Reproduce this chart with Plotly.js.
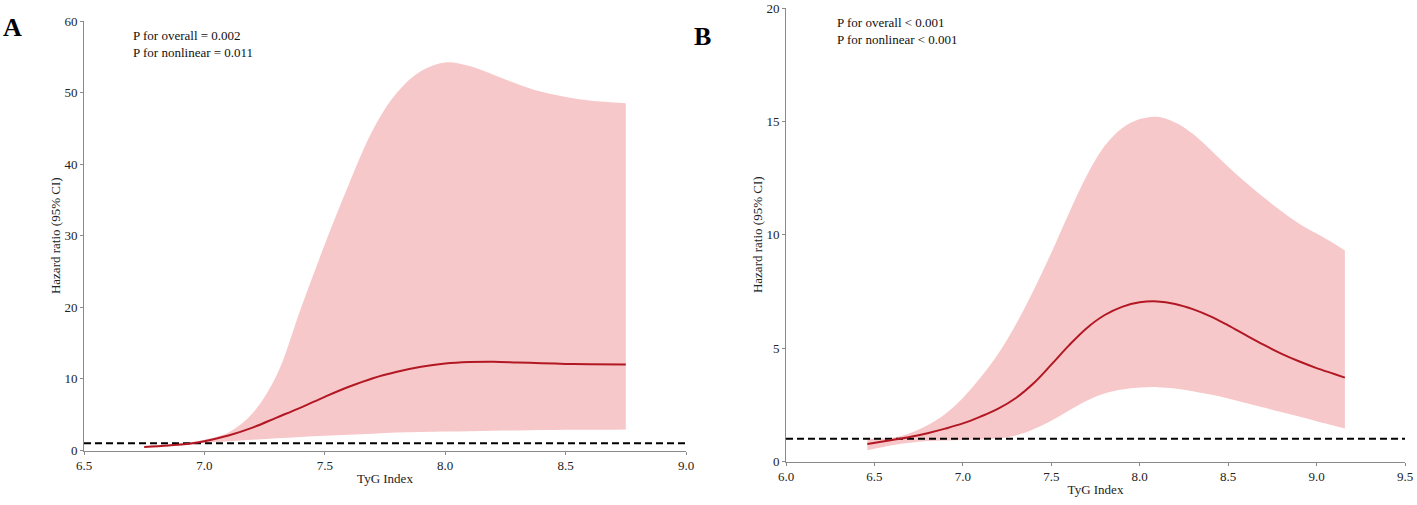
<!DOCTYPE html>
<html>
<head>
<meta charset="utf-8">
<script src="https://cdn.plot.ly/plotly-3.0.1.min.js"></script>
<style>html,body{margin:0;padding:0;background:#fff;}#chart{width:1417px;height:505px;}</style>
</head>
<body>
<div id="chart"></div>
<script>
// ---- Panel A data ----
const tygA = [6.75, 6.85, 6.95, 7.0, 7.1, 7.2, 7.3, 7.4, 7.5, 7.6, 7.7, 7.8, 7.9, 8.0, 8.1, 8.2, 8.3, 8.4, 8.5, 8.6, 8.75];
const hrA  = [0.5, 0.7, 1.0, 1.3, 2.1, 3.2, 4.6, 6.0, 7.5, 8.9, 10.1, 11.0, 11.7, 12.15, 12.35, 12.4, 12.3, 12.2, 12.1, 12.05, 12.0];
const upA  = [0.6, 0.8, 1.2, 1.5, 2.5, 5.2, 10.5, 19.8, 28.8, 37.2, 44.8, 50.0, 53.0, 54.2, 53.7, 52.5, 51.2, 50.1, 49.4, 48.9, 48.5];
const loA  = [0.4, 0.6, 0.85, 1.05, 1.3, 1.5, 1.7, 1.9, 2.05, 2.2, 2.35, 2.5, 2.6, 2.65, 2.7, 2.75, 2.8, 2.85, 2.9, 2.9, 2.95];
const xRangeA = [6.5, 9.0];
const yRangeA = [0, 60];
const xTicksA = [6.5, 7.0, 7.5, 8.0, 8.5, 9.0];
const yTicksA = [0, 10, 20, 30, 40, 50, 60];
const pTextA = ["P for overall = 0.002", "P for nonlinear = 0.011"];

// ---- Panel B data ----
const tygB = [6.46, 6.6, 6.7, 6.8, 6.9, 7.0, 7.1, 7.2, 7.3, 7.4, 7.5, 7.6, 7.7, 7.8, 7.9, 8.0, 8.1, 8.2, 8.3, 8.4, 8.5, 8.6, 8.7, 8.8, 8.9, 9.0, 9.1, 9.16];
const hrB  = [0.77, 0.95, 1.08, 1.25, 1.45, 1.68, 1.98, 2.33, 2.8, 3.45, 4.27, 5.12, 5.88, 6.45, 6.82, 7.02, 7.06, 6.95, 6.72, 6.4, 6.0, 5.57, 5.15, 4.76, 4.42, 4.12, 3.86, 3.7];
const upB  = [1.0, 1.05, 1.25, 1.6, 2.1, 2.8, 3.7, 4.75, 6.05, 7.55, 9.2, 10.95, 12.6, 13.9, 14.7, 15.1, 15.2, 14.95, 14.45, 13.75, 13.0, 12.3, 11.65, 11.05, 10.5, 10.05, 9.6, 9.3];
const loB  = [0.5, 0.72, 0.83, 0.9, 0.93, 0.95, 0.97, 1.02, 1.15, 1.42, 1.8, 2.25, 2.68, 3.0, 3.18, 3.26, 3.28, 3.22, 3.1, 2.95, 2.78, 2.58, 2.38, 2.18, 1.98, 1.78, 1.58, 1.45];
const xRangeB = [6.0, 9.5];
const yRangeB = [0, 20];
const xTicksB = [6.0, 6.5, 7.0, 7.5, 8.0, 8.5, 9.0, 9.5];
const yTicksB = [0, 5, 10, 15, 20];
const pTextB = ["P for overall < 0.001", "P for nonlinear < 0.001"];

const refHR = 1;

const FONT = "Liberation Serif, Times New Roman, serif";
const bandColor = "rgb(247,200,201)";
const lineColor = "rgb(178,24,36)";

function panel(x, hr, up, lo, xr, xa, ya) {
  return [
    {x: x, y: lo, xaxis: xa, yaxis: ya, mode: "lines", line: {width: 0, shape: "spline", smoothing: 1.0}, hoverinfo: "skip", showlegend: false},
    {x: x, y: up, xaxis: xa, yaxis: ya, mode: "lines", line: {width: 0, shape: "spline", smoothing: 1.0}, fill: "tonexty", fillcolor: bandColor, hoverinfo: "skip", showlegend: false},
    {x: xr, y: [refHR, refHR], xaxis: xa, yaxis: ya, mode: "lines", line: {color: "#000", width: 2, dash: "7px,4px"}, showlegend: false},
    {x: x, y: hr, xaxis: xa, yaxis: ya, mode: "lines", line: {color: lineColor, width: 2, shape: "spline", smoothing: 1.0}, showlegend: false}
  ];
}

const data = [].concat(
  panel(tygA, hrA, upA, loA, xRangeA, "x", "y"),
  panel(tygB, hrB, upB, loB, xRangeB, "x2", "y2")
);

function fmt1(v){ return v.toFixed(1); }

function xaxis(domain, range, ticks, anchor) {
  return {
    domain: domain, range: range, anchor: anchor,
    tickmode: "array", tickvals: ticks, ticktext: ticks.map(fmt1),
    showline: true, linecolor: "#8a8a8a", linewidth: 1,
    ticks: "outside", ticklen: 3, tickcolor: "#8a8a8a",
    showgrid: false, zeroline: false,
    tickfont: {family: FONT, size: 13, color: "#222222"},
    title: {text: "TyG Index", font: {family: FONT, size: 13, color: "#222222"}, standoff: 1}
  };
}
function yaxis(domain, range, ticks, anchor) {
  return {
    domain: domain, range: range, anchor: anchor,
    tickmode: "array", tickvals: ticks, ticktext: ticks.map(String),
    showline: true, linecolor: "#8a8a8a", linewidth: 1,
    ticks: "outside", ticklen: 3, tickcolor: "#8a8a8a",
    showgrid: false, zeroline: false,
    tickfont: {family: FONT, size: 13, color: "#222222"},
    title: {text: "Hazard ratio (95% CI)", font: {family: FONT, size: 13, color: "#222222"}, standoff: 0}
  };
}

const layout = {
  width: 1417, height: 505,
  margin: {l: 0, r: 0, t: 0, b: 0},
  paper_bgcolor: "#fff", plot_bgcolor: "#fff",
  showlegend: false,
  xaxis: xaxis([84/1417, 686/1417], xRangeA, xTicksA, "y"),
  yaxis: yaxis([(505-450.5)/505, (505-21)/505], yRangeA, yTicksA, "x"),
  xaxis2: xaxis([786/1417, 1405/1417], xRangeB, xTicksB, "y2"),
  yaxis2: yaxis([(505-461.5)/505, (505-8)/505], yRangeB, yTicksB, "x2"),
  annotations: [
    {text: "<b>A</b>", xref: "paper", yref: "paper", x: 12/1417, y: 1 - 27/505, xanchor: "center", yanchor: "middle", showarrow: false, font: {family: FONT, size: 26, color: "#000"}},
    {text: "<b>B</b>", xref: "paper", yref: "paper", x: 702/1417, y: 1 - 37/505, xanchor: "center", yanchor: "middle", showarrow: false, font: {family: FONT, size: 26, color: "#000"}},
    {text: pTextA.join("<br>"), xref: "paper", yref: "paper", x: 131/1417, y: 1 - 26/505, xanchor: "left", yanchor: "top", align: "left", showarrow: false, font: {family: FONT, size: 13, color: "#111"}},
    {text: pTextB.join("<br>"), xref: "paper", yref: "paper", x: 835/1417, y: 1 - 13/505, xanchor: "left", yanchor: "top", align: "left", showarrow: false, font: {family: FONT, size: 13, color: "#111"}}
  ]
};

Plotly.newPlot("chart", data, layout, {staticPlot: true, displayModeBar: false});
</script>
</body>
</html>
